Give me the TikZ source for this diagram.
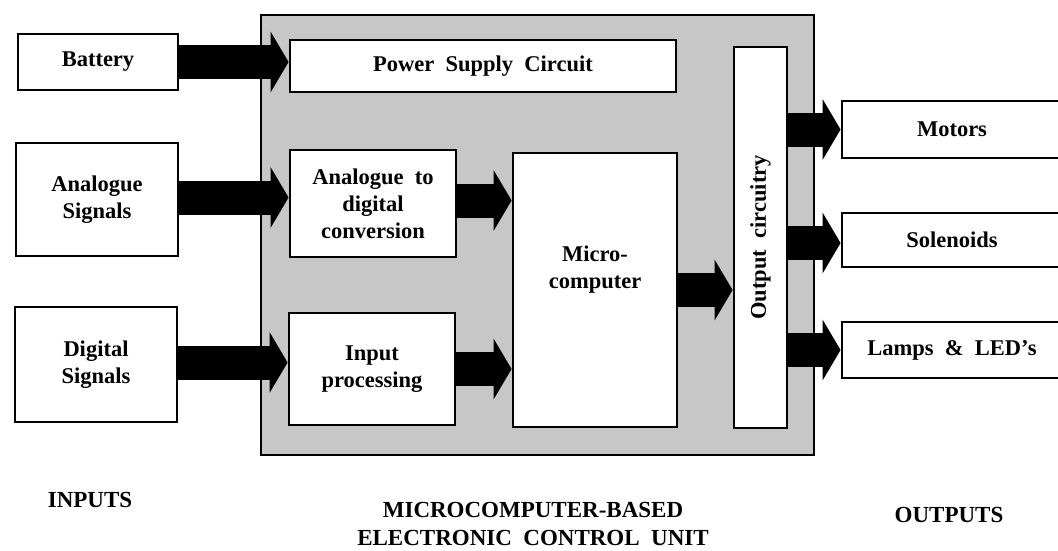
\documentclass[tikz,border=0pt]{standalone}
\usepackage{fontspec}
\setmainfont{Liberation Serif}
\usetikzlibrary{arrows.meta}
\begin{document}
\begin{tikzpicture}[x=1pt,y=-1pt,
  box/.style={draw=black, line width=2.8pt, fill=white, inner sep=0pt, align=center,
    font=\fontsize{22.5}{27}\selectfont\bfseries},
  ecubox/.style={draw=black, line width=2.4pt, fill=black!22, inner sep=0pt},
  bigarrow/.style={black, line width=34pt, -{Triangle[length=18pt,width=60pt]}},
  captext/.style={align=center, font=\fontsize{23}{28}\selectfont\bfseries}]
\useasboundingbox (0,0) rectangle (1058,550);
\clip (0,0) rectangle (1058,550);
% ECU background
\node[ecubox, minimum width=553pt, minimum height=440pt] (ecu) at (537.5,235) {};
% inputs
\node[box, minimum width=160pt, minimum height=56pt] (bat) at (98,62) {Battery};
\node[box, minimum width=162pt, minimum height=113pt] (ana) at (97,199.5) {Analogue\\Signals};
\node[box, minimum width=162pt, minimum height=115pt] (dig) at (96,364.5) {Digital\\Signals};
% ECU internals
\node[box, minimum width=386pt, minimum height=52pt] (psc) at (483,66) {Power\ \ Supply\ \ Circuit};
\node[box, minimum width=166pt, minimum height=107pt] (ad) at (373,203.5) {Analogue\ \ to\\digital\\conversion};
\node[box, minimum width=166pt, minimum height=112pt] (ip) at (372,369) {Input\\processing};
\node[box, minimum width=164pt, minimum height=274pt] (mc) at (595,290) {Micro-\\computer\\[18pt]};
\node[box, minimum width=53pt, minimum height=381pt,
  label={[rotate=90, font=\fontsize{22.5}{27}\selectfont\bfseries]center:Output\ \ circuitry}] (oc) at (760.5,237.5) {};
% outputs
\node[box, minimum width=220pt, minimum height=57pt] (mot) at (952,129.5) {Motors};
\node[box, minimum width=220pt, minimum height=54pt] (sol) at (952,240) {Solenoids};
\node[box, minimum width=220pt, minimum height=56pt] (lam) at (952,350) {Lamps\ \ \&\ \ LED's};
% arrows
\draw[bigarrow] (bat.east) -- (bat.east -| psc.west);
\draw[bigarrow] ([yshift=2pt]ana.east) -- ([yshift=2pt]ana.east -| ad.west);
\draw[bigarrow] ([yshift=3pt]ad.east) -- ([yshift=3pt]ad.east -| mc.west);
\draw[bigarrow] ([yshift=2pt]dig.east) -- ([yshift=2pt]dig.east -| ip.west);
\draw[bigarrow] (ip.east) -- (ip.east -| mc.west);
\draw[bigarrow] (mc.east) -- (mc.east -| oc.west);
\draw[bigarrow] (mot.west -| oc.east) -- (mot.west);
\draw[bigarrow] ([yshift=-3pt]sol.west -| oc.east) -- ([yshift=-3pt]sol.west);
\draw[bigarrow] (lam.west -| oc.east) -- (lam.west);
% captions
\node[captext] (inl) at (90,500) {INPUTS};
\node[captext] (ecul) at (533,524) {MICROCOMPUTER-BASED\\ELECTRONIC\ \ CONTROL\ \ UNIT};
\node[captext] (outl) at (949,515) {OUTPUTS};
\end{tikzpicture}
\end{document}
